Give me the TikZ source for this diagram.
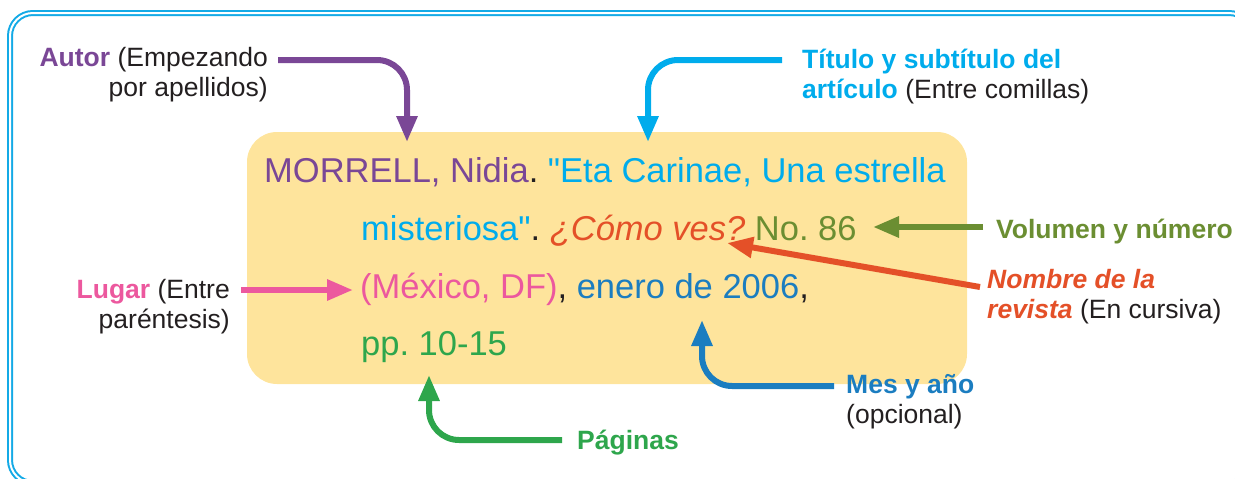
\documentclass[tikz,border=0pt]{standalone}
\usepackage{fontspec}
\setmainfont{Liberation Sans}
\usepackage{xcolor}
\usepackage{tikz}
\usetikzlibrary{arrows.meta}
\frenchspacing

\definecolor{cAutor}{RGB}{122,71,150}
\definecolor{cTitulo}{RGB}{0,172,236}
\definecolor{cRevista}{RGB}{228,80,40}
\definecolor{cVolumen}{RGB}{107,142,50}
\definecolor{cLugar}{RGB}{236,88,158}
\definecolor{cMes}{RGB}{27,125,192}
\definecolor{cPaginas}{RGB}{46,166,76}
\definecolor{cCaja}{RGB}{254,228,156}
\definecolor{cMarco}{RGB}{20,170,230}
\definecolor{cTexto}{RGB}{35,31,32}

\tikzset{
  flecha/.style={line width=6pt, rounded corners=30pt, -{Triangle[length=26pt,width=20pt]}},
  etiqueta/.style={inner sep=0pt, text=cTexto, font=\fontsize{26.5}{29.5}\selectfont},
  cita/.style={inner sep=0pt, anchor=base west, text=cTexto, font=\fontsize{34.5}{40}\selectfont}
}

\begin{document}
\begin{tikzpicture}[x=1pt,y=-1pt]
 \useasboundingbox (0,0) rectangle (1235,479);
 \clip (0,0) rectangle (1235,479);
 % marco doble (sale por la derecha y por abajo)
 \draw[cMarco, line width=2pt, double=white, double distance=2pt, rounded corners=23pt] (10,13) rectangle (1252,483);
 % caja de la cita
 \node[fill=cCaja, rounded corners=30pt, minimum width=720pt, minimum height=252pt, inner sep=0pt] (caja) at (607,258) {};
 \node[cita] (linea1) at (264,182) {{\color{cAutor}MORRELL, Nidia}. {\color{cTitulo}\textquotedbl Eta Carinae, Una estrella}};
 \node[cita] (linea2) at (361,240) {{\color{cTitulo}misteriosa\textquotedbl}. {\color{cRevista}\itshape ¿Cómo ves?} {\color{cVolumen}No. 86}};
 \node[cita] (linea3) at (360,298) {{\color{cLugar}(México, DF)}, {\color{cMes}enero de 2006},};
 \node[cita] (linea4) at (361,355) {{\color{cPaginas}pp. 10-15}};
 % etiquetas (base = ultima linea)
 \node[etiqueta, anchor=base east, align=right] (autor) at (268,96) {{\bfseries\color{cAutor}Autor} (Empezando\\por apellidos)};
 \node[etiqueta, anchor=base west, align=left] (titulo) at (802,98) {{\bfseries\color{cTitulo}Título y subtítulo del}\\{\bfseries\color{cTitulo}artículo} (Entre comillas)};
 \node[etiqueta, anchor=base west] (volumen) at (996,238) {\bfseries\color{cVolumen}Volumen y número};
 \node[etiqueta, anchor=base west, align=left] (nombre) at (987,318) {{\bfseries\itshape\color{cRevista}Nombre de la}\\{\bfseries\itshape\color{cRevista}revista} (En cursiva)};
 \node[etiqueta, anchor=base east, align=right] (lugar) at (230,328) {{\bfseries\color{cLugar}Lugar} (Entre\\paréntesis)};
 \node[etiqueta, anchor=base west, align=left] (mes) at (846,423) {{\bfseries\color{cMes}Mes y año}\\(opcional)};
 \node[etiqueta, anchor=base west] (paginas) at (577,449) {\bfseries\color{cPaginas}Páginas};
 % puntas de las flechas
 \coordinate (pAutor) at (407,142);
 \coordinate (pTitulo) at (648,142);
 \coordinate (pVolumen) at (873,227);
 \coordinate (pRevista) at (727,243);
 \coordinate (pLugar) at (353,290);
 \coordinate (pMes) at (702,320);
 \coordinate (pPaginas) at (429,375);
 % flechas
 \draw[flecha, cAutor] ([shift={(10,-36)}]autor.base east) -| (pAutor);
 \draw[flecha, cTitulo] ([shift={(-20,-38)}]titulo.base west) -| (pTitulo);
 \draw[flecha, cVolumen] ([shift={(-13,-11)}]volumen.base west) -- (pVolumen);
 \draw[flecha, cRevista] ([shift={(-7,-31)}]nombre.base west) -- (pRevista);
 \draw[flecha, cLugar] ([shift={(11,-38)}]lugar.base east) -- (pLugar);
 \draw[flecha, cMes] ([shift={(-12,-37)}]mes.base west) -| (pMes);
 \draw[flecha, cPaginas] ([shift={(-15,-9)}]paginas.base west) -| (pPaginas);
\end{tikzpicture}
\end{document}
